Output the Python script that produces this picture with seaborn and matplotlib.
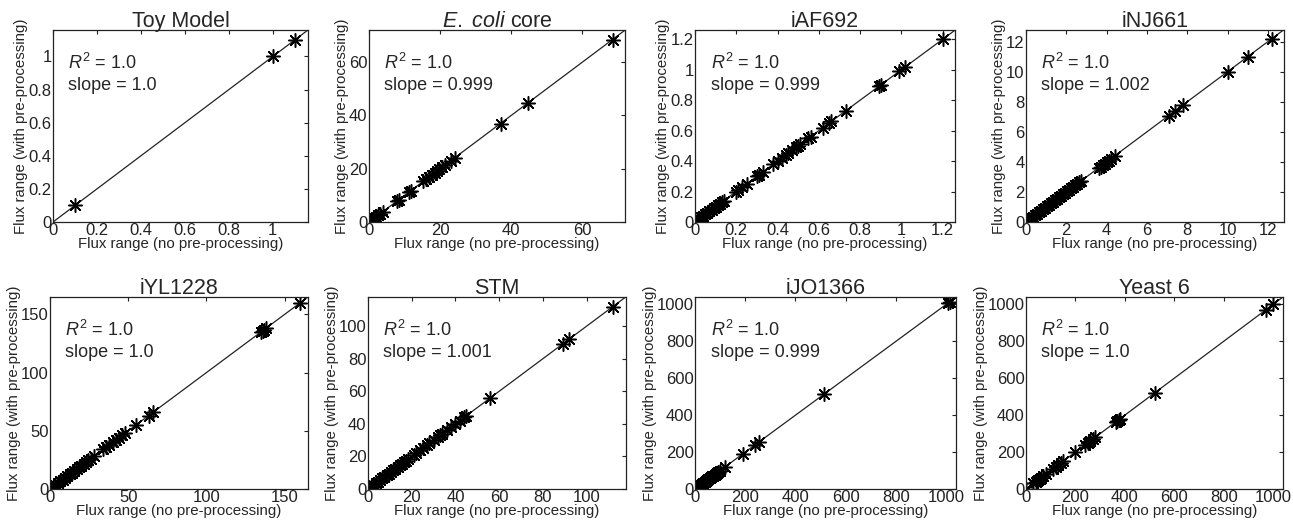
import numpy as np
import matplotlib
matplotlib.use("Agg")
import matplotlib.pyplot as plt
import seaborn as sns
from matplotlib.ticker import FuncFormatter, MultipleLocator

# =========================================
#  Data
# =========================================

models = ["Toy Model", r"$\mathit{E.\ coli}$ core", "iAF692", "iNJ661",
          "iYL1228", "STM", "iJO1366", "Yeast 6"]
slopes = ["1.0", "0.999", "0.999", "1.002", "1.0", "1.001", "0.999", "1.0"]
slope_vals = [1.0, 0.999, 0.999, 1.002, 1.0, 1.001, 0.999, 1.0]
axis_max = [1.16, 72, 1.26, 12.8, 165, 118, 1040, 1040]
tick_step = [0.2, 20, 0.2, 2, 50, 20, 200, 200]

toy_x = [0.1, 1.0, 1.1]
toy_y = [0.1, 1.0, 1.1]

ecoli_x = [0.1, 0.4, 0.8, 1.2, 1.6, 2.0, 2.5, 3.0, 3.8, 7.8, 8.3, 11.2, 11.8,
           15.3, 16.0, 17.0, 17.8, 18.5, 19.2, 19.8, 20.5, 21.5, 23.0, 24.2,
           37.0, 44.8, 68.5]
ecoli_y = [0.1, 0.4, 0.8, 1.2, 1.6, 2.0, 2.5, 3.0, 3.8, 7.8, 8.3, 11.2, 11.8,
           15.3, 16.0, 17.0, 17.8, 18.5, 19.2, 19.8, 20.5, 21.5, 23.0, 24.1,
           36.9, 44.7, 68.4]

iaf_x = [0.01, 0.02, 0.03, 0.04, 0.05, 0.06, 0.07, 0.08, 0.09, 0.10, 0.11,
         0.12, 0.13, 0.14, 0.20, 0.21, 0.23, 0.25, 0.30, 0.31, 0.33, 0.38,
         0.40, 0.42, 0.44, 0.45, 0.47, 0.49, 0.50, 0.51, 0.55, 0.56, 0.62,
         0.65, 0.66, 0.73, 0.89, 0.90, 0.99, 1.02, 1.20]
iaf_y = [0.01, 0.02, 0.03, 0.04, 0.05, 0.06, 0.07, 0.08, 0.09, 0.10, 0.11,
         0.12, 0.13, 0.14, 0.20, 0.21, 0.23, 0.25, 0.30, 0.31, 0.33, 0.38,
         0.40, 0.42, 0.44, 0.45, 0.47, 0.49, 0.50, 0.51, 0.55, 0.56, 0.62,
         0.65, 0.66, 0.73, 0.89, 0.90, 0.99, 1.02, 1.20]

inj_x = [0.05, 0.15, 0.25, 0.35, 0.45, 0.55, 0.65, 0.75, 0.85, 0.95, 1.05,
         1.15, 1.25, 1.35, 1.45, 1.55, 1.65, 1.75, 1.85, 1.95, 2.05, 2.15,
         2.25, 2.35, 2.45, 2.55, 2.65, 2.75, 3.6, 3.7, 3.8, 3.9, 4.0, 4.1,
         4.2, 4.4, 7.1, 7.4, 7.8, 10.0, 11.0, 12.2]
inj_y = [0.05, 0.15, 0.25, 0.35, 0.45, 0.55, 0.65, 0.75, 0.85, 0.95, 1.05,
         1.15, 1.25, 1.35, 1.45, 1.55, 1.65, 1.75, 1.85, 1.95, 2.05, 2.15,
         2.25, 2.35, 2.45, 2.55, 2.65, 2.76, 3.6, 3.7, 3.8, 3.9, 4.0, 4.1,
         4.2, 4.4, 7.1, 7.4, 7.8, 10.0, 11.0, 12.2]

iyl_x = [0.5, 2, 3.5, 5, 6.5, 8, 9.5, 11, 12.5, 14, 15.5, 17, 18.5, 20, 21.5,
         23, 24.5, 26, 28, 34, 36, 38, 40, 42, 44, 46, 48, 55, 63, 66, 135,
         136, 137, 138, 160]
iyl_y = [0.5, 2, 3.5, 5, 6.5, 8, 9.5, 11, 12.5, 14, 15.5, 17, 18.5, 20, 21.5,
         23, 24.5, 26, 28, 34, 36, 38, 40, 42, 44, 46, 48, 55, 63, 66, 135,
         136, 137, 138, 160]

stm_x = [0.5, 1.5, 2.5, 3.5, 4.5, 5.5, 6.5, 7.5, 8.5, 9.5, 10.5, 11.5, 12.5,
         13.5, 14.5, 15.5, 16.5, 17.5, 18.5, 21, 22, 24, 25, 27, 28, 30, 32,
         33, 34, 36, 38, 40, 42, 44, 45, 56, 89, 92, 112]
stm_y = [0.5, 1.5, 2.5, 3.5, 4.5, 5.5, 6.5, 7.5, 8.5, 9.5, 10.5, 11.5, 12.5,
         13.5, 14.5, 15.5, 16.5, 17.5, 18.5, 21, 22, 24, 25, 27, 28, 30, 32,
         33, 34, 36, 38, 40, 42, 44, 45, 56, 89, 92, 112]

ijo_x = [3, 8, 13, 18, 23, 28, 33, 38, 43, 48, 53, 58, 63, 68, 73, 78, 83,
         88, 93, 98, 120, 190, 240, 255, 515, 1010, 1015]
ijo_y = [3, 8, 13, 18, 23, 28, 33, 38, 43, 48, 53, 58, 63, 68, 73, 78, 83,
         88, 93, 98, 120, 190, 240, 255, 514, 1009, 1014]

yeast_x = [0, 30, 40, 45, 50, 55, 60, 70, 80, 110, 120, 130, 140, 150, 200,
           240, 250, 255, 260, 270, 280, 365, 370, 375, 380, 520, 970, 1000]
yeast_y = [0, 30, 40, 45, 50, 55, 60, 70, 80, 110, 120, 130, 140, 150, 200,
           240, 250, 255, 260, 270, 280, 365, 370, 375, 380, 520, 970, 1000]

xs = [toy_x, ecoli_x, iaf_x, inj_x, iyl_x, stm_x, ijo_x, yeast_x]
ys = [toy_y, ecoli_y, iaf_y, inj_y, iyl_y, stm_y, ijo_y, yeast_y]

# =========================================
#  Style
# =========================================

sns.set_theme(style="white")
plt.rcParams["font.family"] = ["Liberation Sans", "DejaVu Sans"]
plt.rcParams["mathtext.fontset"] = "custom"
plt.rcParams["mathtext.rm"] = "Liberation Sans"
plt.rcParams["mathtext.it"] = "Liberation Sans:italic"
plt.rcParams["axes.edgecolor"] = "#222222"
plt.rcParams["axes.linewidth"] = 0.9

fig = plt.figure(figsize=(12.93, 5.25), dpi=100)

W, H = 1293.0, 525.0
lefts = [[53, 369, 695, 1026], [50, 368, 695, 1026]]
widths = [[255, 256, 260, 258], [258, 258, 261, 257]]
tops = [30, 297]
ax_h = 192

for i in range(8):
    r, c = divmod(i, 4)
    rect = [lefts[r][c] / W, (H - tops[r] - ax_h) / H, widths[r][c] / W, ax_h / H]
    ax = fig.add_axes(rect)

    ax.axline((0, 0), slope=slope_vals[i], color="#222222", lw=0.9, zorder=1)
    sns.scatterplot(x=xs[i], y=ys[i], ax=ax, marker=(8, 2, 0), s=95,
                    color="black", linewidth=1.1, zorder=2)

    ax.set_xlim(0, axis_max[i])
    ax.set_ylim(0, axis_max[i])
    ax.xaxis.set_major_locator(MultipleLocator(tick_step[i]))
    ax.yaxis.set_major_locator(MultipleLocator(tick_step[i]))
    fmt = FuncFormatter(lambda v, p: f"{v:g}")
    ax.xaxis.set_major_formatter(fmt)
    ax.yaxis.set_major_formatter(fmt)
    ax.tick_params(direction="in", length=3, width=0.8, top=True, right=True,
                   labelsize=12, pad=1, colors="#222222")

    ax.set_title(models[i], fontsize=15.5, pad=2)
    ax.set_xlabel("Flux range (no pre-processing)", fontsize=10.8, labelpad=-1)
    ax.set_ylabel("Flux range (with pre-processing)", fontsize=10.8, labelpad=0)

    ax.text(0.06, 0.83, "$R^2$ = 1.0", transform=ax.transAxes,
            fontsize=13, va="center", ha="left")
    ax.text(0.06, 0.71, "slope = " + slopes[i], transform=ax.transAxes,
            fontsize=13, va="center", ha="left")

fig.savefig("out.png", dpi=100)
